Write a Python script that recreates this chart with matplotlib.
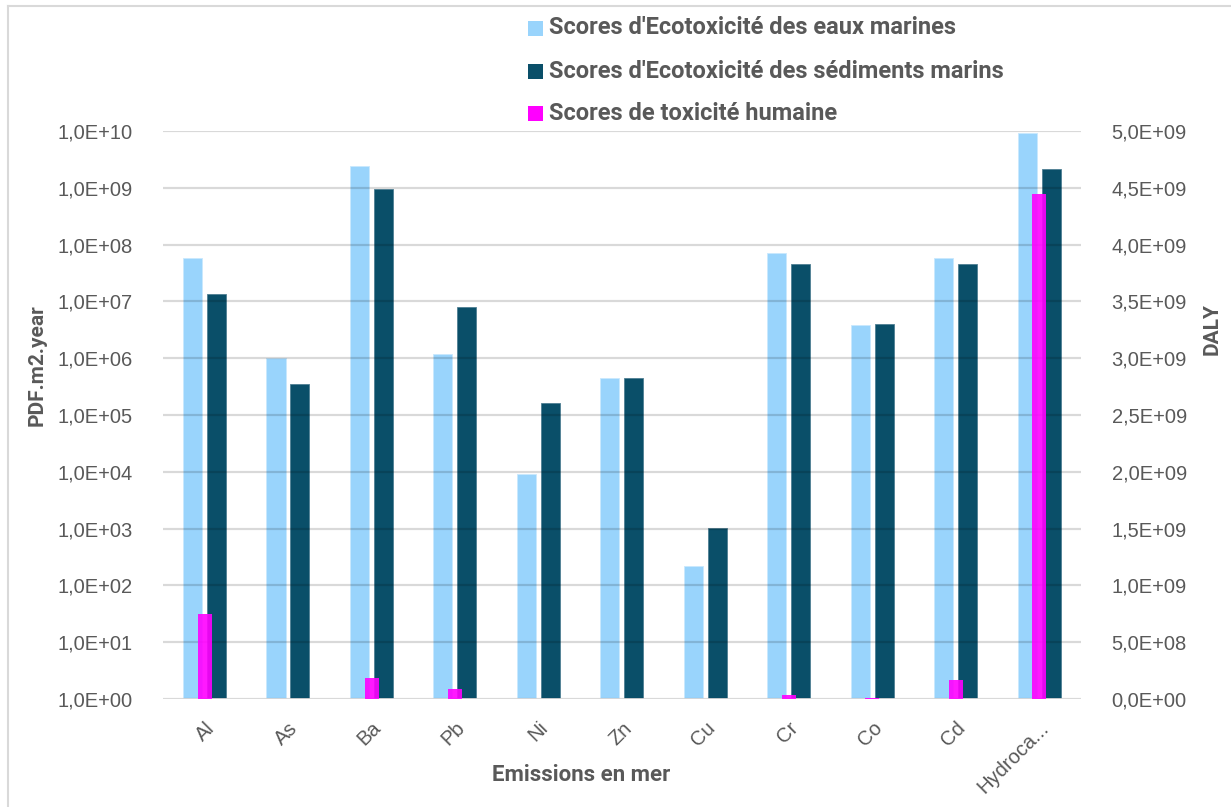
import matplotlib
matplotlib.use("Agg")
import matplotlib.pyplot as plt
from matplotlib.ticker import FixedLocator, FuncFormatter
from matplotlib.lines import Line2D
from matplotlib.patches import Rectangle
import numpy as np

# Emission categories (sea emissions)
categories = ["Al", "As", "Ba", "Pb", "Ni", "Zn", "Cu", "Cr", "Co", "Cd", "Hydroca..."]

# Marine water ecotoxicity scores (PDF.m2.year, log axis)
eaux_marines = [5.7e7, 1.0e6, 2.45e9, 1.18e6, 9.2e3, 4.4e5, 2.2e2, 7.0e7, 3.8e6, 5.7e7, 9.1e9]
# Marine sediment ecotoxicity scores (PDF.m2.year, log axis)
sediments_marins = [1.33e7, 3.5e5, 9.5e8, 7.9e6, 1.6e5, 4.4e5, 1.03e3, 4.6e7, 4.0e6, 4.5e7, 2.1e9]
# Human toxicity scores (DALY, linear axis)
toxicite_humaine = [7.5e8, 0, 1.82e8, 8.5e7, 0, 2e6, 0, 3.3e7, 1.0e7, 1.67e8, 4.445e9]

series_labels = ["Scores d'Ecotoxicité des eaux marines",
                 "Scores d'Ecotoxicité des sédiments marins",
                 "Scores de toxicité humaine"]

c_light = "#99D4FC"
c_dark = "#0A4F69"
c_mag = "#FF00FF"
c_text = "#595959"
c_grid = "#D9D9D9"

W, H = 1231, 807
fig = plt.figure(figsize=(W / 100, H / 100), dpi=100)
fig.patch.set_facecolor("white")

left, right, bottom, top = 163, 1081, 699, 131
ax = fig.add_axes([left / W, 1 - bottom / H, (right - left) / W, (bottom - top) / H])
ax2 = ax.twinx()

x = np.arange(len(categories))
bw = 0.228
ax.bar(x - 0.146, eaux_marines, width=bw, color=c_light, edgecolor="#C9E8FD",
       linewidth=0.6, zorder=2)
ax.bar(x + 0.141, sediments_marins, width=bw, color=c_dark, edgecolor="#4F7F93",
       linewidth=0.6, zorder=2)
ax2.bar(x, toxicite_humaine, width=0.168, color=c_mag, alpha=0.9, zorder=3)

ax.set_yscale("log")
ax.set_ylim(1, 1e10)
ax.set_xlim(-0.5, len(categories) - 0.5)
ax2.set_ylim(0, 5e9)

# gridlines from the log axis, drawn as semi-opaque lines over the bars
for e in range(0, 11):
    ax.axhline(10 ** e, color=(0, 0, 0, 0.15), linewidth=1.6, zorder=4)

ax.yaxis.set_major_locator(FixedLocator([10.0 ** e for e in range(0, 11)]))
ax.yaxis.set_minor_locator(FixedLocator([]))
ax.yaxis.set_major_formatter(FuncFormatter(lambda v, p: "1,0E+%02d" % int(round(np.log10(v)))))


def sci_comma(v, p):
    if v == 0:
        return "0,0E+00"
    e = int(np.floor(np.log10(abs(v)) + 1e-9))
    m = v / 10 ** e
    return ("%.1f" % m).replace(".", ",") + "E+%02d" % e


ax2.yaxis.set_major_locator(FixedLocator(np.arange(0, 5.01e9, 5e8)))
ax2.yaxis.set_major_formatter(FuncFormatter(sci_comma))

for a in (ax, ax2):
    for s in a.spines.values():
        s.set_visible(False)
    a.tick_params(length=0)
    a.set_facecolor("none")

ax.tick_params(axis="y", pad=22, labelsize=14.5, labelcolor=c_text)
ax2.tick_params(axis="y", pad=22, labelsize=14.5, labelcolor=c_text)
for lbl in ax.get_yticklabels() + ax2.get_yticklabels():
    lbl.set_fontfamily("Liberation Sans")

ax.set_xticks(x)
ax.set_xticklabels(categories, rotation=45, ha="right", rotation_mode="anchor",
                   fontsize=14.5, color=c_text, fontfamily="Liberation Sans")
ax.tick_params(axis="x", pad=14)

# bottom axis line
ax.axhline(1, color=c_grid, linewidth=2, zorder=5)

title_font = dict(fontfamily="Roboto", fontweight="bold", color=c_text)
fig.text(37 / W, 1 - 365 / H, "PDF.m2.year", rotation=90, ha="center", va="center",
         fontsize=15, **title_font)
fig.text(1212 / W, 1 - 329 / H, "DALY", rotation=90, ha="center", va="center",
         fontsize=15, **title_font)
fig.text(581 / W, 1 - 775 / H, "Emissions en mer", ha="center", va="center",
         fontsize=16, **title_font)

# legend drawn as square swatches with labels
legend_rows = [28, 71, 113]
for yy, col, lab in zip(legend_rows, [c_light, c_dark, c_mag], series_labels):
    fig.patches.append(Rectangle((528 / W, 1 - (yy + 7.5) / H), 15 / W, 15 / H,
                                 transform=fig.transFigure, facecolor=col,
                                 edgecolor="none"))
    fig.text(549 / W, 1 - yy / H, lab, ha="left", va="center", fontsize=17, **title_font)

# chart area border (left and top edges)
fig.lines.append(Line2D([8 / W, 8 / W], [0, 1 - 6 / H], transform=fig.transFigure,
                        color="#D9D9D9", linewidth=1.5))
fig.lines.append(Line2D([8 / W, 1], [1 - 6 / H, 1 - 6 / H], transform=fig.transFigure,
                        color="#D9D9D9", linewidth=1.5))

fig.savefig("out.png", dpi=100, facecolor="white")
